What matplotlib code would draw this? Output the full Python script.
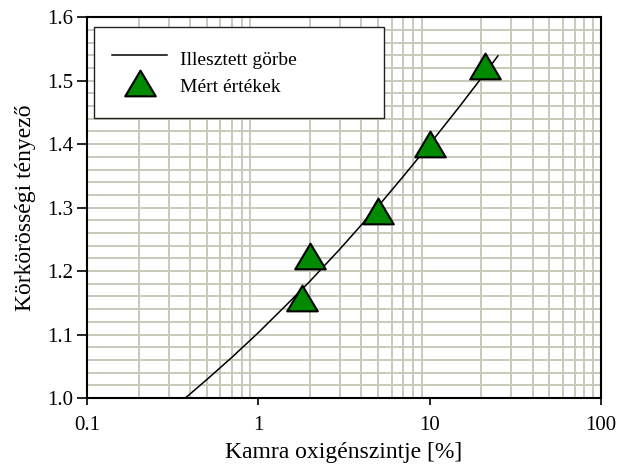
import numpy as np
import matplotlib
matplotlib.use("Agg")
from matplotlib import pyplot as plt
from matplotlib.path import Path
from matplotlib.ticker import LogLocator, MultipleLocator, FixedLocator, NullFormatter

# measured points
meas_x = [1.8, 2.0, 5.0, 10.0, 21.0]
meas_y = [1.158, 1.224, 1.295, 1.400, 1.523]

# fitted curve
fit_x = [0.375, 0.5, 0.7, 1.0, 1.5, 2.0, 3.0, 4.0, 5.0, 7.0, 10.0, 15.0, 20.0, 25.0]
fit_y = [1.000, 1.029, 1.064, 1.103, 1.150, 1.184, 1.235, 1.273, 1.302, 1.349,
         1.400, 1.460, 1.504, 1.539]

y_ticks = [1.0, 1.1, 1.2, 1.3, 1.4, 1.5, 1.6]
x_ticks = [0.1, 1, 10, 100]
x_labels = ["0.1", "1", "10", "100"]

plt.rcParams['font.family'] = ['Liberation Serif', 'DejaVu Serif']

# slightly flattened triangle
tri = Path([(0, 0.84), (-1, -0.84), (1, -0.84), (0, 0.84)],
           [Path.MOVETO, Path.LINETO, Path.LINETO, Path.CLOSEPOLY])

fig = plt.figure(figsize=(6.19, 4.65), dpi=100)
ax = fig.add_axes([0.1405, 0.144, 0.8305, 0.819])

ax.set_xscale('log')
ax.set_xlim(0.1, 100)
ax.set_ylim(1.0, 1.6)

grid_col = '#c9c9bb'
ax.xaxis.set_minor_locator(LogLocator(base=10, subs=np.arange(2, 10)))
ax.xaxis.set_minor_formatter(NullFormatter())
ax.yaxis.set_minor_locator(MultipleLocator(0.02))
ax.grid(which='minor', color=grid_col, linewidth=1.4)
ax.grid(which='major', axis='y', color=grid_col, linewidth=1.4)
ax.set_axisbelow(True)

ax.plot(fit_x, fit_y, color='black', linewidth=1.1, label='Illesztett görbe', zorder=3)
ax.plot(meas_x, meas_y, linestyle='none', marker=tri, markersize=22,
        markerfacecolor='#008a00', markeredgecolor='black', markeredgewidth=1.5,
        label='Mért értékek', zorder=4)

ax.xaxis.set_major_locator(FixedLocator(x_ticks))
ax.set_xticklabels(x_labels)
ax.set_yticks(y_ticks)
ax.set_yticklabels([f"{v:.1f}" for v in y_ticks])
ax.tick_params(which='minor', length=0)
ax.tick_params(which='major', direction='out', width=1.2,
               labelsize=15, colors='black')
ax.tick_params(axis='x', length=5, pad=8)
ax.tick_params(axis='y', length=7, pad=3)

for s in ax.spines.values():
    s.set_linewidth(1.5)
    s.set_color('black')

ax.set_xlabel('Kamra oxigénszintje [%]', fontsize=17, labelpad=5)
ax.set_ylabel('Körkörösségi tényező', fontsize=17, labelpad=8)

leg = ax.legend(loc='upper left', bbox_to_anchor=(0.0136, 0.0, 0.564, 0.974),
                mode='expand', fontsize=14, frameon=True, fancybox=False,
                shadow=False, borderpad=0.95, labelspacing=0.05, handleheight=1.7,
                handlelength=2.8, handletextpad=0.7, borderaxespad=0.0)
leg.get_frame().set_edgecolor('#222222')
leg.get_frame().set_linewidth(1.0)
leg.get_frame().set_alpha(1)
leg.set_zorder(5)

fig.savefig('out.png', dpi=100)
plt.close(fig)
